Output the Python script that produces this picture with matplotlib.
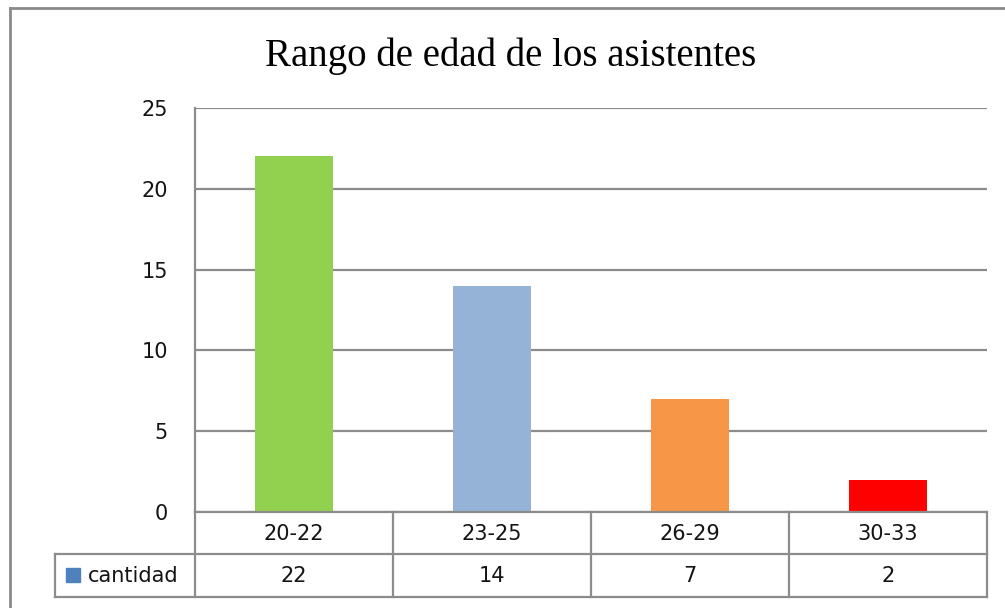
import matplotlib
matplotlib.use("Agg")
import matplotlib.pyplot as plt
from matplotlib.lines import Line2D
from matplotlib.patches import Rectangle
import matplotlib.transforms as mtransforms

# ---- data ----
categories = ["20-22", "23-25", "26-29", "30-33"]
cantidad = [22, 14, 7, 2]
bar_colors = ["#92D050", "#95B3D7", "#F79646", "#FF0000"]
series_name = "cantidad"
series_color = "#4F81BD"
yticks = [0, 5, 10, 15, 20, 25]
title = "Rango de edad de los asistentes"

W, H = 1005, 608
fig = plt.figure(figsize=(W / 100, H / 100), dpi=100)
fig.patch.set_facecolor("white")

def fx(px):
    return px / W

def fy(py):
    return 1 - py / H

GRID = "#8C8C8C"
LW = 1.6
FS = 15
TXT = "#141414"

left, right, top, bottom = 195, 987, 108, 512
ax = fig.add_axes([fx(left), fy(bottom), fx(right) - fx(left), fy(top) - fy(bottom)])
x = list(range(len(categories)))
ax.bar(x, cantidad, width=0.39, color=bar_colors, zorder=3)
ax.set_xlim(-0.5, len(categories) - 0.5)
ax.set_ylim(0, 25)
ax.set_yticks(yticks)
ax.set_yticklabels([str(t) for t in yticks], fontsize=FS, family="DejaVu Sans", color=TXT)
ax.tick_params(axis="y", length=0, pad=19.5)
ax.set_xticks([])
ax.grid(axis="y", color=GRID, linewidth=LW, zorder=0)
for s in ["top", "right", "bottom"]:
    ax.spines[s].set_visible(False)
ax.spines["left"].set_color(GRID)
ax.spines["left"].set_linewidth(LW)

# ---- data table below the plot ----
r1_top, r1_bot, r2_bot = 512, 554, 597
leg_left = 55
bt = mtransforms.blended_transform_factory(ax.transData, fig.transFigure)
ft = fig.transFigure

def hline(y, x0, x1):
    fig.add_artist(Line2D([fx(x0), fx(x1)], [fy(y), fy(y)], color=GRID, lw=LW, transform=ft))

def vline(xp, y0, y1):
    fig.add_artist(Line2D([fx(xp), fx(xp)], [fy(y0), fy(y1)], color=GRID, lw=LW, transform=ft))

hline(r1_top, left, right)
hline(r1_bot, leg_left, right)
hline(r2_bot, leg_left, right)
vline(left, r1_top, r2_bot)
vline(leg_left, r1_bot, r2_bot)
for i in range(len(categories)):
    xb = i + 0.5
    fig.add_artist(Line2D([xb, xb], [fy(r1_top), fy(r2_bot)], color=GRID, lw=LW, transform=bt))

for i, (c, v) in enumerate(zip(categories, cantidad)):
    fig.text(i, fy((r1_top + r1_bot) / 2 + 1), c, transform=bt, ha="center", va="center",
             fontsize=FS, family="DejaVu Sans", color=TXT)
    fig.text(i, fy((r1_bot + r2_bot) / 2 + 1), str(v), transform=bt, ha="center", va="center",
             fontsize=FS, family="DejaVu Sans", color=TXT)

# legend key
fig.add_artist(Rectangle((fx(66), fy(582)), fx(14), 14 / H, color=series_color, transform=ft))
fig.text(fx(88), fy((r1_bot + r2_bot) / 2), series_name, ha="left", va="center",
         fontsize=FS, family="DejaVu Sans", color=TXT)

# title
fig.text(fx(511), fy(56), title, ha="center", va="center", fontsize=28,
         family="Liberation Serif", color="black")

# outer chart border
fig.add_artist(Line2D([fx(10), fx(10)], [fy(8), 0], color="#8A8A8A", lw=2, transform=ft))
fig.add_artist(Line2D([fx(10), 1], [fy(8), fy(8)], color="#8A8A8A", lw=2, transform=ft))

fig.savefig("out.png", dpi=100, facecolor="white")
